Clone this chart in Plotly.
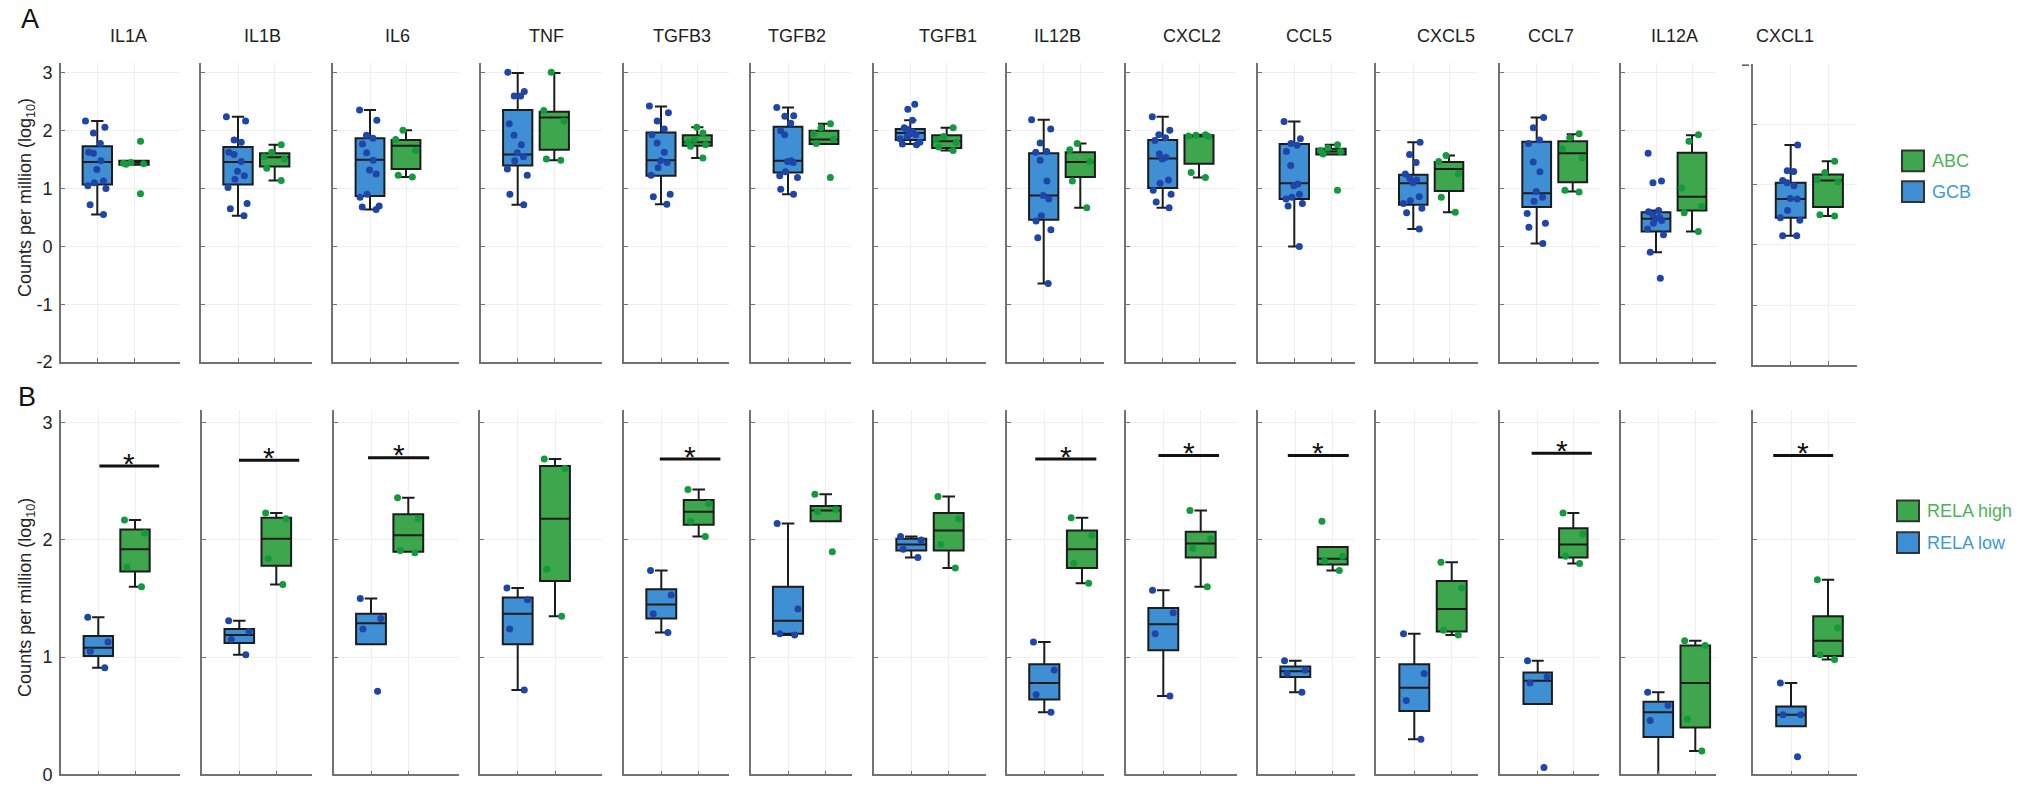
import plotly.graph_objects as go

W, H = 2029, 795

GENES = ["IL1A", "IL1B", "IL6", "TNF", "TGFB3", "TGFB2", "TGFB1",
         "IL12B", "CXCL2", "CCL5", "CXCL5", "CCL7", "IL12A", "CXCL1"]

# ---- Panel A: GCB vs ABC (log10 CPM) ----
A_GCB_LO = [0.55, 0.53, 0.64, 0.72, 0.73, 0.90, 1.77, -0.64, 0.67, 0.00, 0.30, 0.05, -0.10, 0.15]
A_GCB_Q1 = [1.07, 1.07, 0.87, 1.40, 1.22, 1.28, 1.84, 0.46, 1.01, 0.82, 0.72, 0.68, 0.26, 0.45]
A_GCB_MED = [1.46, 1.46, 1.50, 1.59, 1.49, 1.48, 1.96, 0.88, 1.52, 1.09, 1.09, 0.92, 0.48, 0.76]
A_GCB_Q3 = [1.73, 1.72, 1.87, 2.36, 1.97, 2.07, 2.03, 1.61, 1.84, 1.77, 1.24, 1.81, 0.59, 1.03]
A_GCB_HI = [2.17, 2.24, 2.36, 3.00, 2.42, 2.40, 2.18, 2.19, 2.24, 2.16, 1.80, 2.23, 0.62, 1.66]

A_ABC_LO = [1.41, 1.14, 1.20, 1.49, 1.53, 1.77, 1.66, 0.67, 1.19, 1.59, 0.59, 0.95, 0.26, 0.48]
A_ABC_Q1 = [1.41, 1.38, 1.34, 1.67, 1.74, 1.77, 1.70, 1.20, 1.43, 1.59, 0.96, 1.11, 0.62, 0.63]
A_ABC_MED = [1.45, 1.54, 1.74, 2.23, 1.80, 1.85, 1.82, 1.46, 1.91, 1.64, 1.34, 1.61, 0.86, 1.07]
A_ABC_Q3 = [1.48, 1.61, 1.84, 2.33, 1.92, 2.00, 1.92, 1.63, 1.92, 1.69, 1.46, 1.82, 1.62, 1.17]
A_ABC_HI = [1.48, 1.76, 2.01, 3.00, 2.06, 2.12, 2.05, 1.78, 1.93, 1.76, 1.57, 1.94, 1.92, 1.39]

A_GCB_PTS = [
    [2.17, 2.06, 1.96, 1.78, 1.63, 1.61, 1.48, 1.33, 1.13, 1.10, 1.05, 1.00, 0.72, 0.55],
    [2.24, 2.17, 1.84, 1.80, 1.63, 1.59, 1.47, 1.30, 1.22, 1.16, 1.02, 0.74, 0.65, 0.53],
    [2.36, 2.18, 1.92, 1.87, 1.77, 1.62, 1.49, 1.32, 1.25, 0.90, 0.85, 0.70, 0.68, 0.64],
    [3.01, 2.68, 2.60, 2.60, 2.12, 1.92, 1.76, 1.62, 1.55, 1.48, 1.34, 1.23, 0.90, 0.72],
    [2.43, 2.31, 2.17, 2.03, 1.93, 1.79, 1.63, 1.48, 1.45, 1.36, 1.23, 0.90, 0.86, 0.73],
    [2.40, 2.26, 2.25, 2.13, 2.00, 1.93, 1.48, 1.47, 1.45, 1.29, 1.22, 1.19, 0.99, 0.90],
    [2.46, 2.37, 2.18, 2.05, 2.02, 1.98, 1.95, 1.93, 1.90, 1.86, 1.80, 1.77, 1.76],
    [2.19, 2.03, 1.79, 1.64, 1.63, 1.49, 1.13, 0.88, 0.82, 0.53, 0.44, 0.29, 0.15, -0.64],
    [2.24, 2.01, 1.93, 1.88, 1.83, 1.60, 1.54, 1.51, 1.15, 1.09, 0.97, 0.90, 0.77, 0.67],
    [2.16, 1.86, 1.78, 1.75, 1.64, 1.40, 1.08, 1.05, 0.90, 0.85, 0.82, 0.74, 0.70, 0.00],
    [1.80, 1.59, 1.45, 1.25, 1.18, 1.15, 1.10, 0.86, 0.79, 0.74, 0.66, 0.58, 0.30],
    [2.23, 2.05, 1.84, 1.78, 1.46, 1.29, 0.95, 0.85, 0.78, 0.57, 0.40, 0.33, 0.05],
    [1.61, 1.13, 1.10, 0.62, 0.60, 0.55, 0.50, 0.48, 0.45, 0.40, 0.30, 0.20, -0.10, -0.55],
    [1.66, 1.23, 1.22, 1.07, 1.03, 0.98, 0.77, 0.76, 0.57, 0.45, 0.41, 0.15, 0.15],
]
A_ABC_PTS = [
    [1.82, 1.45, 1.44, 1.43, 1.42, 0.91],
    [1.76, 1.63, 1.55, 1.51, 1.35, 1.14],
    [2.01, 1.85, 1.66, 1.23, 1.20],
    [3.01, 2.35, 2.17, 1.51, 1.49],
    [2.06, 1.96, 1.85, 1.80, 1.76, 1.73, 1.53],
    [2.12, 2.05, 1.95, 1.85, 1.78, 1.19],
    [2.05, 1.90, 1.85, 1.80, 1.72, 1.66],
    [1.78, 1.67, 1.47, 1.13, 0.67],
    [1.93, 1.92, 1.91, 1.90, 1.28, 1.19],
    [1.76, 1.70, 1.66, 1.64, 1.60, 0.97],
    [1.57, 1.47, 1.26, 0.85, 0.59],
    [1.95, 1.88, 1.69, 1.53, 0.97, 0.94],
    [1.93, 1.82, 1.01, 0.69, 0.58, 0.26],
    [1.39, 1.20, 1.08, 1.05, 0.50, 0.48],
]

# ---- Panel B: RELA low vs RELA high (log10 CPM) ----
B_LOW_LO = [0.91, 1.02, 1.11, 0.72, 1.21, 1.19, 1.85, 0.53, 0.67, 0.70, 0.30, 0.60, -0.05, 0.41]
B_LOW_Q1 = [1.01, 1.12, 1.11, 1.11, 1.33, 1.20, 1.91, 0.64, 1.06, 0.83, 0.54, 0.60, 0.32, 0.41]
B_LOW_MED = [1.08, 1.19, 1.29, 1.37, 1.45, 1.31, 1.96, 0.78, 1.28, 0.88, 0.74, 0.80, 0.53, 0.51]
B_LOW_Q3 = [1.18, 1.24, 1.37, 1.51, 1.58, 1.60, 2.01, 0.94, 1.42, 0.92, 0.94, 0.87, 0.62, 0.58]
B_LOW_HI = [1.34, 1.31, 1.50, 1.59, 1.74, 2.14, 2.03, 1.13, 1.57, 0.97, 1.20, 0.97, 0.70, 0.78]

B_HIGH_LO = [1.60, 1.62, 1.90, 1.35, 2.03, 2.16, 1.76, 1.63, 1.60, 1.74, 1.19, 1.80, 0.20, 0.98]
B_HIGH_Q1 = [1.73, 1.78, 1.90, 1.65, 2.13, 2.16, 1.91, 1.76, 1.85, 1.79, 1.22, 1.85, 0.40, 1.01]
B_HIGH_MED = [1.92, 2.01, 2.04, 2.18, 2.24, 2.25, 2.08, 1.92, 1.97, 1.84, 1.41, 1.96, 0.78, 1.14]
B_HIGH_Q3 = [2.09, 2.19, 2.22, 2.63, 2.34, 2.29, 2.23, 2.08, 2.07, 1.94, 1.65, 2.10, 1.10, 1.35]
B_HIGH_HI = [2.17, 2.23, 2.36, 2.69, 2.43, 2.39, 2.37, 2.19, 2.25, 1.94, 1.81, 2.23, 1.14, 1.66]

B_LOW_PTS = [
    [1.34, 1.13, 1.05, 0.91], [1.31, 1.22, 1.15, 1.02], [1.50, 1.33, 1.24, 0.71],
    [1.59, 1.49, 1.24, 0.72], [1.74, 1.53, 1.37, 1.21], [2.14, 1.41, 1.20, 1.19],
    [2.03, 2.00, 1.92, 1.85], [1.13, 0.89, 0.68, 0.53], [1.57, 1.38, 1.20, 0.67],
    [0.97, 0.89, 0.86, 0.70], [1.20, 0.86, 0.63, 0.30], [0.97, 0.83, 0.78, 0.06],
    [0.70, 0.59, 0.46, -0.05], [0.78, 0.51, 0.51, 0.15],
]
B_HIGH_PTS = [
    [2.17, 2.06, 1.77, 1.60], [2.23, 2.18, 1.84, 1.62], [2.36, 2.18, 1.91, 1.89],
    [2.69, 2.61, 1.75, 1.35], [2.43, 2.31, 2.16, 2.03], [2.39, 2.26, 2.24, 1.90],
    [2.37, 2.18, 1.96, 1.76], [2.19, 2.04, 1.80, 1.63], [2.25, 2.01, 1.93, 1.60],
    [2.16, 1.86, 1.82, 1.74], [1.81, 1.59, 1.23, 1.19], [2.23, 2.05, 1.86, 1.80],
    [1.14, 1.10, 0.47, 0.20], [1.66, 1.25, 1.02, 0.98],
]

# significant comparisons in panel B (gene, bar start, bar end, bar height)
SIG_GENES = ["IL1A", "IL1B", "IL6", "TGFB3", "IL12B", "CXCL2", "CCL5", "CCL7", "CXCL1"]
SIG_X0 = [1.03, 0.99, 0.92, 0.96, 0.76, 0.87, 0.80, 0.83, 0.52]
SIG_X1 = [2.66, 2.62, 2.56, 2.58, 2.38, 2.49, 2.43, 2.52, 2.14]
SIG_Y = [2.63, 2.68, 2.70, 2.69, 2.69, 2.72, 2.72, 2.74, 2.72]

# ---- styling ----
FONT = "Liberation Sans, Arial, Helvetica, sans-serif"
BLUE_FILL = "#3f8fd4"
GREEN_FILL = "#3ea64c"
BLUE_DOT = "#1f45a8"
GREEN_DOT = "#139a3c"
BOX_LINE = "#1c1c1c"
AXIS_COL = "#727272"
GRID_COL = "#efefef"

# pixel geometry of each panel: left edge, right edge, tick x=1, tick x=2
GEOM_A = [(61, 180, 97.3, 134), (201, 311.7, 238, 274.7), (333, 459.3, 370, 406),
          (481, 602.3, 517.7, 554.3), (624, 728.7, 661, 697.3), (751.3, 851.3, 788, 824),
          (874, 986, 910.3, 946.7), (1006.7, 1104.3, 1043.7, 1080.3),
          (1125.7, 1236.3, 1162.7, 1199), (1257.7, 1355, 1294.3, 1331),
          (1376.3, 1478.3, 1413.3, 1449), (1500, 1599, 1536.7, 1572.7),
          (1620.7, 1716, 1656, 1692), (1752.7, 1857.3, 1790.7, 1828)]
GEOM_B = [(61, 180, 98.3, 135), (202, 311.7, 239.3, 276.3), (333.7, 459.3, 371, 408.3),
          (480.3, 602.3, 517.7, 555), (624, 728.7, 661.3, 698.7), (750.7, 851.7, 788, 825.7),
          (874, 986, 911.3, 948.7), (1006.7, 1104.3, 1044.3, 1082),
          (1125.7, 1236.7, 1163.3, 1200.7), (1257.7, 1355, 1295.3, 1332.7),
          (1376.3, 1478.3, 1414.3, 1451.7), (1500, 1599, 1537.7, 1573.3),
          (1620.7, 1716, 1658.3, 1695.3), (1753.3, 1857.3, 1791, 1828)]
TITLE_X = [128.3, 262.3, 397.7, 546, 681.7, 796.7, 947.7, 1057.3, 1191.7, 1309.3,
           1445.7, 1550.7, 1674.3, 1785.3]


def px(p):
    return p / W


def py(p):
    return 1 - p / H


fig = go.Figure()
layout = dict(
    width=W, height=H, margin=dict(l=0, r=0, t=0, b=0),
    paper_bgcolor="white", plot_bgcolor="white",
    showlegend=False, boxmode="overlay",
    font=dict(family=FONT, color="#222222"),
)
annotations = []
shapes = []


def paper_text(text, xp, yp, size, color="#222222", xanchor="center", angle=0):
    annotations.append(dict(text=text, x=px(xp), y=py(yp), xref="paper", yref="paper",
                            showarrow=False, xanchor=xanchor, yanchor="middle",
                            textangle=angle, font=dict(size=size, color=color)))


def add_axes(idx, geom, ydom_px, yrange, yticks, show_labels):
    left, right, t1, t2 = geom
    sp = t2 - t1
    xr = [1 - (t1 - left) / sp, 2 + (right - t2) / sp]
    sfx = "" if idx == 1 else str(idx)
    layout["xaxis" + sfx] = dict(
        domain=[px(left), px(right)], range=xr, anchor="y" + sfx,
        tickvals=[1, 2], showticklabels=False, ticks="inside", ticklen=4,
        tickcolor=AXIS_COL, tickwidth=1.2, showline=True, linecolor=AXIS_COL,
        linewidth=1.8, showgrid=True, gridcolor=GRID_COL, gridwidth=1,
        zeroline=False, fixedrange=True,
    )
    layout["yaxis" + sfx] = dict(
        domain=[py(ydom_px[1]), py(ydom_px[0])], range=yrange, anchor="x" + sfx,
        tickvals=yticks, ticktext=[str(v) for v in yticks],
        showticklabels=show_labels, ticks="inside", ticklen=4, tickcolor=AXIS_COL,
        tickwidth=1.2, showline=True, linecolor=AXIS_COL, linewidth=1.8,
        showgrid=True, gridcolor=GRID_COL, gridwidth=1, zeroline=False,
        tickfont=dict(size=18, color="#222222"), ticklabelstandoff=3,
        fixedrange=True,
    )
    return "x" + sfx, "y" + sfx


def add_group(xa, ya, xpos, lo, q1, med, q3, hi, pts, fill, dot):
    fig.add_trace(go.Box(
        x=[xpos], q1=[q1], median=[med], q3=[q3], lowerfence=[lo], upperfence=[hi],
        width=0.8, fillcolor=fill, line=dict(color=BOX_LINE, width=2),
        whiskerwidth=0.42, boxpoints=False, xaxis=xa, yaxis=ya, hoverinfo="skip",
    ))
    fig.add_trace(go.Box(
        x=[xpos] * len(pts), y=pts, width=0.8, boxpoints="all", jitter=0.85,
        pointpos=0, fillcolor="rgba(0,0,0,0)",
        line=dict(color="rgba(0,0,0,0)", width=0), whiskerwidth=0,
        marker=dict(color=dot, size=7, line=dict(width=0)),
        xaxis=xa, yaxis=ya, hoverinfo="y",
    ))


n = len(GENES)
for i in range(n):
    # row A
    if GENES[i] == "CXCL1":
        ydom, yr = (65, 370), [-2, 3]
    else:
        ydom, yr = (63.3, 366.7), [-2, 3.18]
    xa, ya = add_axes(i + 1, GEOM_A[i], ydom, yr, [-2, -1, 0, 1, 2, 3], i == 0)
    add_group(xa, ya, 1, A_GCB_LO[i], A_GCB_Q1[i], A_GCB_MED[i], A_GCB_Q3[i],
              A_GCB_HI[i], A_GCB_PTS[i], BLUE_FILL, BLUE_DOT)
    add_group(xa, ya, 2, A_ABC_LO[i], A_ABC_Q1[i], A_ABC_MED[i], A_ABC_Q3[i],
              A_ABC_HI[i], A_ABC_PTS[i], GREEN_FILL, GREEN_DOT)
    paper_text(GENES[i], TITLE_X[i], 36, 18)

    # row B
    xb, yb = add_axes(n + i + 1, GEOM_B[i], (415, 784.3), [0, 3.11], [0, 1, 2, 3], i == 0)
    add_group(xb, yb, 1, B_LOW_LO[i], B_LOW_Q1[i], B_LOW_MED[i], B_LOW_Q3[i],
              B_LOW_HI[i], B_LOW_PTS[i], BLUE_FILL, BLUE_DOT)
    add_group(xb, yb, 2, B_HIGH_LO[i], B_HIGH_Q1[i], B_HIGH_MED[i], B_HIGH_Q3[i],
              B_HIGH_HI[i], B_HIGH_PTS[i], GREEN_FILL, GREEN_DOT)

    if GENES[i] in SIG_GENES:
        k = SIG_GENES.index(GENES[i])
        shapes.append(dict(type="line", xref=xb, yref=yb, x0=SIG_X0[k], x1=SIG_X1[k],
                           y0=SIG_Y[k], y1=SIG_Y[k], line=dict(color="#111111", width=3)))
        annotations.append(dict(text="*", xref=xb, yref=yb,
                                x=(SIG_X0[k] + SIG_X1[k]) / 2, y=SIG_Y[k],
                                showarrow=False, xanchor="center", yanchor="middle",
                                yshift=3, font=dict(size=30, color="#111111")))

# panel letters
paper_text("A", 29.5, 19.5, 27, "#111111")
paper_text("B", 27, 402.5, 27, "#111111")

# y-axis titles
for yc in (200, 605):
    paper_text("Counts per million (log<sub>10</sub>)", 26.5, yc, 18, angle=-90)

# stray tick mark at the top of the CXCL1 axis in panel A
shapes.append(dict(type="line", xref="paper", yref="paper", x0=px(1742), x1=px(1749),
                   y0=py(66), y1=py(66), line=dict(color="#555555", width=1.5)))

# legends
LEG_A = [("ABC", GREEN_FILL, "#4cb35a", 163), ("GCB", BLUE_FILL, "#3c9ad8", 194)]
LEG_B = [("RELA high", GREEN_FILL, "#4cb35a", 517.5), ("RELA low", BLUE_FILL, "#3c9ad8", 549.5)]
for items, x0 in ((LEG_A, 1902), (LEG_B, 1897)):
    for label, fill, tcol, yc in items:
        shapes.append(dict(type="rect", xref="paper", yref="paper",
                           x0=px(x0), x1=px(x0 + 22), y0=py(yc + 10.5), y1=py(yc - 10.5),
                           fillcolor=fill, line=dict(color="#333333", width=2)))
        paper_text(label, x0 + 28, yc, 18, tcol, xanchor="left")

layout["annotations"] = annotations
layout["shapes"] = shapes
fig.update_layout(**layout)
fig.write_html("out.html")
